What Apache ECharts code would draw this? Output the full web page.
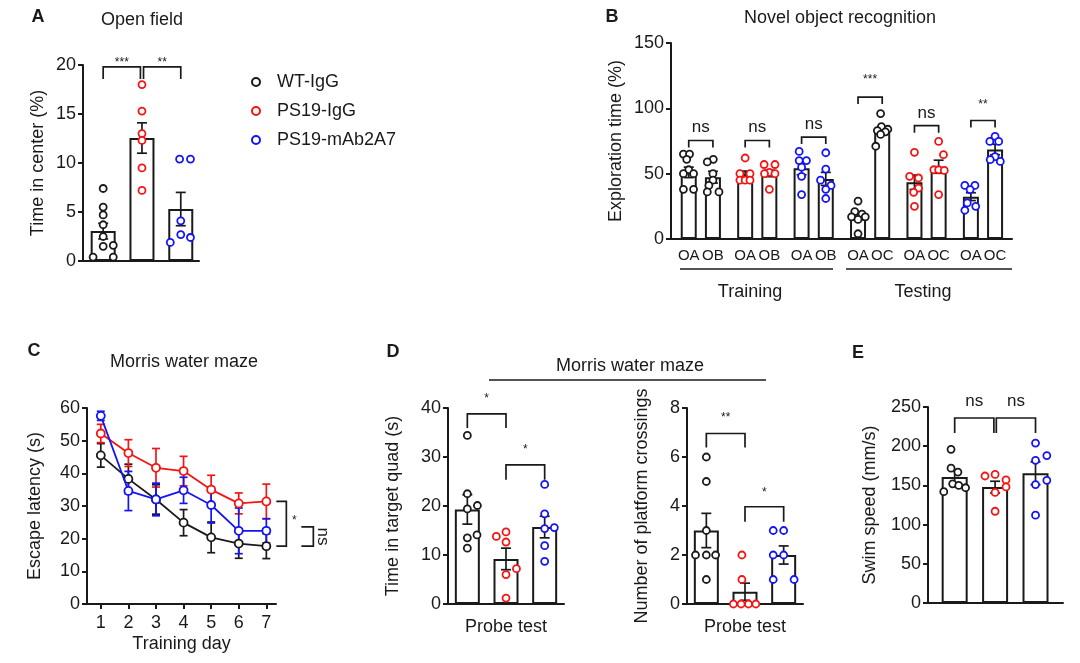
<!DOCTYPE html>
<html><head><meta charset="utf-8">
<script src="https://cdn.jsdelivr.net/npm/echarts@6/dist/echarts.min.js"></script>
<style>html,body{margin:0;padding:0;background:#fff}#c{width:1080px;height:663px}</style>
</head><body><div id="c"></div>
<script>
// ================= DATA =================
const groups = ['WT-IgG', 'PS19-IgG', 'PS19-mAb2A7'];

// A  Open field: time in center (%)
const openMean = [3.05, 12.55, 5.3];
const openSem  = [0.8, 1.55, 1.7];
const openPts  = [
  [7.4, 5.5, 4.7, 3.7, 2.5, 1.5, 1.6, 0.4, 0.4],
  [18.0, 15.3, 13.0, 12.3, 9.5, 7.2],
  [10.4, 10.4, 4.1, 2.7, 2.4, 1.9]
];
const openJit  = [
  [0, 0, 0, 0, 0, 0, 0.26, -0.26, 0.26],
  [0, 0, 0, 0, 0, 0],
  [-0.03, 0.25, 0, 0, 0.25, -0.27]
];

// B  Novel object recognition: exploration time (%)
const novelLabels = ['OA','OB','OA','OB','OA','OB','OA','OC','OA','OC','OA','OC'];
const novelGroup  = [0,0,1,1,2,2,0,0,1,1,2,2];
const novelMean   = [51, 47.3, 49.5, 50.2, 54.2, 46, 17.6, 83.1, 43.4, 55.3, 32.4, 68.5];
const novelSem    = [4, 4.5, 2.5, 2.5, 5, 5, 3, 3, 5.5, 5, 3, 4];
const novelPts = [
  [65, 65, 61, 53, 50, 50, 38, 38],
  [61, 59, 50, 45, 41, 36, 36],
  [62, 50, 50, 45, 45, 45],
  [57, 57, 51, 50, 50, 38],
  [67, 60, 60, 55, 48, 34],
  [66, 53.5, 45, 41, 38, 31],
  [29, 21, 19, 17, 17, 15, 4],
  [96, 86, 84, 83, 82, 80, 71],
  [66.3, 48, 46.7, 39, 35.7, 25],
  [74.7, 64.5, 53, 53, 52.5, 34],
  [41, 41, 37.8, 27.6, 25, 22],
  [78.6, 74.7, 74.7, 63, 60.7, 59.4]
];
const novelJit = [
  [-0.66, 0.1, -0.25, 0, -0.66, 0.6, -0.66, 0.6],
  [0.05, -0.7, 0, 0, -0.5, -0.7, 0.75],
  [0, -0.65, 0.6, -0.65, 0, 0.6],
  [-0.65, 0.7, 0, -0.6, 0.7, 0],
  [-0.3, -0.3, 0.6, 0, 0, 0],
  [0, 0, -0.65, 0.65, 0, 0],
  [0, -0.4, 0.5, 0.9, -0.8, 0, 0],
  [-0.2, -0.1, 0.7, -0.6, 0.4, -0.2, -0.8],
  [0, -0.6, 0.5, 0.5, -0.1, 0],
  [0, 0.6, -0.6, 0, 0.7, 0],
  [-0.75, 0.5, -0.1, -0.45, 0.6, -0.75],
  [0, -0.65, 0.45, 0, -0.6, 0.65]
];

// C  Morris water maze: escape latency (s) per training day
const days = [1, 2, 3, 4, 5, 6, 7];
const mwmMean = [
  [45.5, 38.3, 32.0, 24.9, 20.4, 18.5, 17.7],
  [52.2, 46.2, 41.7, 40.7, 35.0, 30.8, 31.4],
  [57.6, 34.6, 32.0, 34.8, 30.3, 22.4, 22.4]
];
const mwmSem = [
  [3.6, 4.5, 4.5, 4.0, 4.7, 4.5, 3.8],
  [2.8, 4.1, 5.9, 4.5, 4.4, 3.2, 5.3],
  [1.4, 6.0, 5.0, 4.0, 5.5, 7.0, 3.7]
];

// D  Probe test: time in target quadrant (s)
const quadMean = [19.3, 9.2, 15.7];
const quadSem  = [3.0, 2.2, 2.2];
const quadPts = [
  [34.4, 22.5, 19.4, 20.1, 14.1, 13.5, 11.4],
  [13.8, 14.7, 12.65, 7.2, 6.0, 1.2],
  [24.4, 18.4, 15.4, 15.6, 11.9, 8.7]
];
const quadJit = [
  [0, 0, 0, 0.26, 0.25, 0, 0],
  [-0.25, 0, 0, 0.27, 0, 0],
  [0, 0, 0, 0.25, 0, 0]
];

// D  Probe test: number of platform crossings
const crossMean = [3.0, 0.5, 2.0];
const crossSem  = [0.7, 0.35, 0.37];
const crossPts = [
  [6, 5, 3, 2, 2, 2, 1],
  [2, 1, 0, 0, 0, 0],
  [3, 3, 2, 2, 1, 1]
];
const crossJit = [
  [0, 0, 0, -0.28, 0, 0.24, 0],
  [-0.08, -0.08, -0.3, -0.1, 0.09, 0.28],
  [-0.27, 0, -0.27, 0, -0.27, 0.27]
];

// E  Swim speed (mm/s)
const swimMean = [160.8, 147.8, 165.5];
const swimSem  = [8, 7.5, 14.5];
const swimPts = [
  [196, 172, 167, 152, 150, 147, 142],
  [162, 164, 157, 148, 141, 117],
  [204, 188, 182, 156.5, 151, 112]
];
const swimJit = [
  [-0.09, -0.09, 0.08, -0.05, 0.1, 0.27, -0.27],
  [-0.25, 0, 0.27, 0.27, 0, 0],
  [0, 0.28, 0, 0.28, 0, 0]
];

// ================= STYLE / HELPERS =================
const FONT = '"Liberation Sans", Arial, Helvetica, sans-serif';
const INK = '#1a1a1a';
const COLORS = ['#1a1a1a', '#f41414', '#1414f4'];

const grids = [
  {left: 83,  top: 65,  width: 116, height: 196},  // 0 A
  {left: 671, top: 43,  width: 341, height: 196},  // 1 B
  {left: 87,  top: 408, width: 189, height: 196},  // 2 C
  {left: 448, top: 408, width: 116, height: 196},  // 3 D left
  {left: 687, top: 408, width: 116, height: 196},  // 4 D right
  {left: 928, top: 407, width: 135, height: 196}   // 5 E
];

function yAx(g, max, interval, name, gap) {
  return {
    type: 'value', gridIndex: g, min: 0, max: max, interval: interval,
    name: name, nameLocation: 'middle', nameGap: gap,
    nameTextStyle: {fontSize: 18, color: INK, fontFamily: FONT},
    axisLine: {show: true, onZero: false, lineStyle: {color: INK, width: 2}},
    axisTick: {show: true, length: 5, lineStyle: {color: INK, width: 2}},
    axisLabel: {fontSize: 18, color: INK, margin: 7, fontFamily: FONT},
    splitLine: {show: false}
  };
}
function xAx(g, min, max, extra) {
  return Object.assign({
    type: 'value', gridIndex: g, min: min, max: max,
    axisLine: {show: true, onZero: false, lineStyle: {color: INK, width: 2}},
    axisTick: {show: false}, axisLabel: {show: false}, splitLine: {show: false}
  }, extra || {});
}

function barSeries(ax, xs, means, w) {
  return {
    type: 'bar', xAxisIndex: ax, yAxisIndex: ax, barWidth: w, silent: true, z: 1,
    data: means.map((m, i) => [xs[i], m]),
    itemStyle: {color: '#fff', borderColor: INK, borderWidth: 2}
  };
}
function errSeries(ax, xs, means, sems, color, cap, z) {
  return {
    type: 'custom', xAxisIndex: ax, yAxisIndex: ax, silent: true, z: z || 3,
    data: means.map((m, i) => [xs[i], m, sems[i]]),
    renderItem: function (p, api) {
      const x = api.value(0), m = api.value(1), s = api.value(2);
      const t = api.coord([x, m + s]), b = api.coord([x, Math.max(0, m - s)]);
      const st = {stroke: color, lineWidth: 1.7};
      return {type: 'group', children: [
        {type: 'line', shape: {x1: t[0], y1: t[1], x2: b[0], y2: b[1]}, style: st},
        {type: 'line', shape: {x1: t[0] - cap, y1: t[1], x2: t[0] + cap, y2: t[1]}, style: st},
        {type: 'line', shape: {x1: b[0] - cap, y1: b[1], x2: b[0] + cap, y2: b[1]}, style: st}
      ]};
    }
  };
}
function dotSeries(ax, name, color, data) {
  return {
    type: 'scatter', name: name, xAxisIndex: ax, yAxisIndex: ax, z: 4, silent: true,
    symbol: 'circle', symbolSize: 7, data: data,
    itemStyle: {color: '#fff', borderColor: color, borderWidth: 1.8, opacity: 1}
  };
}
function bracketSeries(ax, list) {
  return {
    type: 'custom', xAxisIndex: ax, yAxisIndex: ax, z: 6, silent: true,
    data: list.map(b => [b.x1, b.x2, b.y]),
    renderItem: function (p, api) {
      const b = list[p.dataIndex];
      const a = api.coord([b.x1, b.y]), c = api.coord([b.x2, b.y]);
      return {type: 'group', children: [
        {type: 'polyline', shape: {points: [[a[0], a[1] + b.drop], [a[0], a[1]], [c[0], c[1]], [c[0], c[1] + b.drop]]},
          style: {stroke: INK, lineWidth: 1.7, fill: 'none'}},
        {type: 'text', x: (a[0] + c[0]) / 2, y: a[1] - b.off,
          style: {text: b.label, fontSize: b.size, fill: INK, align: 'center', verticalAlign: 'middle', fontFamily: FONT}}
      ]};
    }
  };
}
function groupedDots(ax, xs, ptsArr, jitArr, groupOf) {
  return groups.map((gName, g) => {
    const data = [];
    ptsArr.forEach((pts, i) => {
      if (groupOf[i] !== g) return;
      pts.forEach((v, j) => data.push([xs[i] + jitArr[i][j], v]));
    });
    return dotSeries(ax, gName, COLORS[g], data);
  });
}

// ================= BUILD =================
const idx3 = [0, 1, 2];
const grp3 = [0, 1, 2];
const novelPos = novelLabels.map((_, i) => Math.floor(i / 2) * 7 + (i % 2) * 3);

const xAxes = [
  xAx(0, -0.52, 2.47),
  xAx(1, -2.2, 40.1, {
    axisLabel: {show: true, customValues: novelPos, margin: 9, fontSize: 15, color: INK, fontFamily: FONT,
      formatter: v => novelLabels[novelPos.indexOf(v)] || ''}
  }),
  xAx(2, 0.5, 7.35, {
    name: 'Training day', nameLocation: 'middle', nameGap: 31,
    nameTextStyle: {fontSize: 18, color: INK, fontFamily: FONT},
    axisTick: {show: true, customValues: days, length: 5, lineStyle: {color: INK, width: 2}},
    axisLabel: {show: true, customValues: days, margin: 10, fontSize: 18, color: INK, fontFamily: FONT}
  }),
  xAx(3, -0.5, 2.5, {name: 'Probe test', nameLocation: 'middle', nameGap: 14,
    nameTextStyle: {fontSize: 18, color: INK, fontFamily: FONT, verticalAlign: 'top'}}),
  xAx(4, -0.5, 2.5, {name: 'Probe test', nameLocation: 'middle', nameGap: 14,
    nameTextStyle: {fontSize: 18, color: INK, fontFamily: FONT, verticalAlign: 'top'}}),
  xAx(5, -0.66, 2.68)
];
const yAxes = [
  yAx(0, 20, 5, 'Time in center (%)', 36),
  yAx(1, 150, 50, 'Exploration time (%)', 46),
  yAx(2, 60, 10, 'Escape latency (s)', 43),
  yAx(3, 40, 10, 'Time in target quad (s)', 46),
  yAx(4, 8, 2, 'Number of platform crossings', 36),
  yAx(5, 250, 50, 'Swim speed (mm/s)', 49)
];

const series = [];
// A
series.push(...groupedDots(0, idx3, openPts, openJit, grp3));
series.push(barSeries(0, idx3, openMean, 25));
series.push(errSeries(0, idx3, openMean, openSem, INK, 5));
series.push(bracketSeries(0, [
  {x1: 0, x2: 0.96, y: 19.8, drop: 12, label: '***', off: 4, size: 12},
  {x1: 1.04, x2: 2, y: 19.8, drop: 12, label: '**', off: 4, size: 12}
]));
// B
series.push(barSeries(1, novelPos, novelMean, 16));
series.push(errSeries(1, novelPos, novelMean, novelSem, INK, 5));
series.push(...groupedDots(1, novelPos, novelPts, novelJit, novelGroup));
series.push(bracketSeries(1, [
  {x1: novelPos[0], x2: novelPos[1], y: 75.4, drop: 7, label: 'ns', off: 13, size: 17},
  {x1: novelPos[2], x2: novelPos[3], y: 75.4, drop: 7, label: 'ns', off: 13, size: 17},
  {x1: novelPos[4], x2: novelPos[5], y: 78.0, drop: 7, label: 'ns', off: 13, size: 17},
  {x1: novelPos[6], x2: novelPos[7], y: 108.6, drop: 7, label: '***', off: 17, size: 12},
  {x1: novelPos[8], x2: novelPos[9], y: 86.7, drop: 7, label: 'ns', off: 12, size: 17},
  {x1: novelPos[10], x2: novelPos[11], y: 90.7, drop: 7, label: '**', off: 16, size: 12}
]));
// C
groups.forEach((gName, g) => {
  series.push(errSeries(2, days, mwmMean[g], mwmSem[g], COLORS[g], 4, 2));
  series.push({
    type: 'line', name: gName, xAxisIndex: 2, yAxisIndex: 2, z: 3 + g, silent: true,
    data: days.map((d, i) => [d, mwmMean[g][i]]),
    symbol: 'circle', symbolSize: 8, color: COLORS[g],
    lineStyle: {color: COLORS[g], width: 1.8},
    itemStyle: {color: '#fff', borderColor: COLORS[g], borderWidth: 1.8}
  });
});
const cBrackets = [
  {top: mwmMean[1][6], bottom: mwmMean[0][6], tick: 10, bar: 20, label: '*', lx: 28, size: 12, rot: 0},
  {top: mwmMean[2][6] + 1.2, bottom: mwmMean[0][6], tick: 35, bar: 47, label: 'ns', lx: 56, size: 17, rot: -Math.PI / 2}
];
series.push({
  type: 'custom', xAxisIndex: 2, yAxisIndex: 2, z: 6, silent: true,
  data: cBrackets.map(b => [days[6], b.top, b.bottom]),
  renderItem: function (p, api) {
    const b = cBrackets[p.dataIndex];
    const t = api.coord([api.value(0), api.value(1)]), d = api.coord([api.value(0), api.value(2)]);
    const x0 = t[0] + b.tick, x1 = t[0] + b.bar;
    return {type: 'group', children: [
      {type: 'polyline', shape: {points: [[x0, t[1]], [x1, t[1]], [x1, d[1]], [x0, d[1]]]},
        style: {stroke: INK, lineWidth: 1.7, fill: 'none'}},
      {type: 'text', x: t[0] + b.lx, y: (t[1] + d[1]) / 2 - (b.rot ? 0 : 3), rotation: b.rot,
        style: {text: b.label, fontSize: b.size, fill: INK, align: 'center', verticalAlign: 'middle', fontFamily: FONT}}
    ]};
  }
});
// D left
series.push(barSeries(3, idx3, quadMean, 25));
series.push(errSeries(3, idx3, quadMean, quadSem, INK, 5));
series.push(...groupedDots(3, idx3, quadPts, quadJit, grp3));
series.push(bracketSeries(3, [
  {x1: 0, x2: 1, y: 38.8, drop: 14, label: '*', off: 15, size: 12},
  {x1: 1, x2: 2, y: 28.4, drop: 15, label: '*', off: 15, size: 12}
]));
// D right
series.push(barSeries(4, idx3, crossMean, 25));
series.push(errSeries(4, idx3, crossMean, crossSem, INK, 5));
series.push(...groupedDots(4, idx3, crossPts, crossJit, grp3));
series.push(bracketSeries(4, [
  {x1: 0, x2: 1, y: 6.96, drop: 14, label: '**', off: 16, size: 12},
  {x1: 1, x2: 2, y: 3.97, drop: 15, label: '*', off: 14, size: 12}
]));
// E
series.push(barSeries(5, idx3, swimMean, 26));
series.push(errSeries(5, idx3, swimMean, swimSem, INK, 5));
series.push(...groupedDots(5, idx3, swimPts, swimJit, grp3));
series.push(bracketSeries(5, [
  {x1: 0, x2: 0.97, y: 236, drop: 15, label: 'ns', off: 17, size: 17},
  {x1: 1.03, x2: 2, y: 236, drop: 15, label: 'ns', off: 17, size: 17}
]));

function txt(t, x, y, size, weight) {
  return {type: 'text', x: x, y: y, silent: true,
    style: {text: t, fontSize: size, fontWeight: weight || 'normal', fill: INK, align: 'center', verticalAlign: 'middle', fontFamily: FONT}};
}
function hline(x1, x2, y) {
  return {type: 'line', silent: true, shape: {x1: x1, y1: y, x2: x2, y2: y}, style: {stroke: INK, lineWidth: 1.7}};
}

const chart = echarts.init(document.getElementById('c'), null, {renderer: 'canvas'});
chart.setOption({
  animation: false,
  backgroundColor: '#fff',
  textStyle: {fontFamily: FONT},
  grid: grids,
  xAxis: xAxes,
  yAxis: yAxes,
  legend: {
    data: groups, orient: 'vertical', left: 246, top: 67, itemGap: 9,
    icon: 'circle', itemWidth: 8, itemHeight: 8, selectedMode: false,
    textStyle: {fontSize: 18, lineHeight: 20, color: INK, fontFamily: FONT, padding: [0, 0, 0, 12]}
  },
  graphic: [
    txt('A', 38, 17, 18, 'bold'), txt('Open field', 142, 20, 18),
    txt('B', 612, 17, 18, 'bold'), txt('Novel object recognition', 840, 18, 18),
    hline(680, 833, 269), hline(846, 1012, 269),
    txt('Training', 750, 292, 18), txt('Testing', 923, 292, 18),
    txt('C', 34, 351, 18, 'bold'), txt('Morris water maze', 184, 362, 18),
    txt('D', 393, 352, 18, 'bold'), txt('Morris water maze', 630, 366, 18), hline(489, 766, 380),
    txt('E', 858, 353, 18, 'bold')
  ],
  series: series
});
</script>
</body></html>
